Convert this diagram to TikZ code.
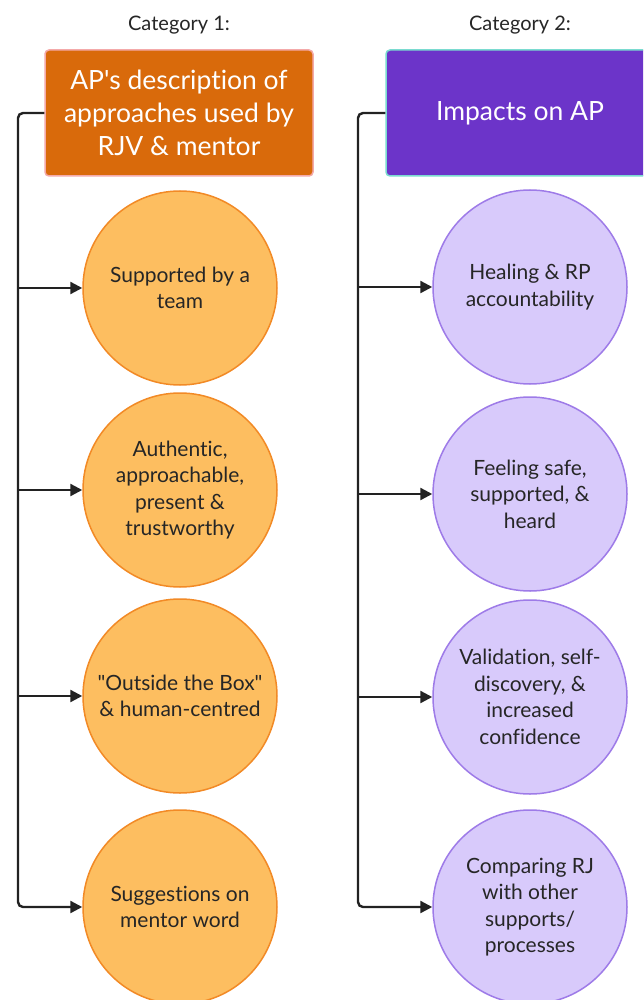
\documentclass[tikz,border=0pt]{standalone}
\usepackage{fontspec}
\setmainfont{Lato}[Ligatures={NoCommon,TeXOff}]
\usetikzlibrary{arrows.meta}
\definecolor{hdrorange}{RGB}{217,106,11}
\definecolor{hdrorangeedge}{RGB}{244,170,170}
\definecolor{hdrpurple}{RGB}{108,52,201}
\definecolor{hdrpurpleedge}{RGB}{122,219,208}
\definecolor{orangefill}{RGB}{253,190,96}
\definecolor{orangeedge}{RGB}{242,138,38}
\definecolor{lilacfill}{RGB}{216,202,251}
\definecolor{lilacedge}{RGB}{158,123,232}
\definecolor{linkcol}{RGB}{34,34,34}
\definecolor{inkcol}{RGB}{38,38,38}
\tikzset{
  catlabel/.style={font=\fontsize{20}{24}\selectfont, text=inkcol},
  header/.style={rectangle, rounded corners=4pt, line width=1.5pt,
    minimum width=268pt, minimum height=126pt, align=center, text=white,
    font=\fontsize{26.5}{33}\selectfont},
  item/.style={circle, minimum size=194pt, line width=1.5pt, align=center,
    text=inkcol, font=\fontsize{21}{26.5}\selectfont, inner sep=0pt},
  orangeitem/.style={item, fill=orangefill, draw=orangeedge},
  lilacitem/.style={item, fill=lilacfill, draw=lilacedge},
  link/.style={draw=linkcol, line width=2.4pt, rounded corners=5pt,
    -{Triangle[length=12pt,width=12pt]}},
}
\begin{document}
\begin{tikzpicture}[x=1pt,y=-1pt]
\useasboundingbox (0,0) rectangle (643,1000);
\clip (0,0) rectangle (643,1000);
\fill[white] (0,0) rectangle (643,1000);

% column headings
\node[catlabel] (cat1) at (179,25) {Category 1:};
\node[catlabel] (cat2) at (520,25) {Category 2:};

% header boxes
\node[header, fill=hdrorange, draw=hdrorangeedge] (h1) at (179,113)
  {AP\char39 s description of\\approaches used by\\RJV \& mentor};
\node[header, fill=hdrpurple, draw=hdrpurpleedge] (h2) at (520,113)
  {Impacts on AP};

% left column items
\node[orangeitem] (a1) at (180,288) {Supported by a\\team};
\node[orangeitem] (a2) at (180,490) {Authentic,\\approachable,\\present \&\\trustworthy};
\node[orangeitem] (a3) at (180,696) {\char34 Outside the Box\char34\\\& human-centred};
\node[orangeitem] (a4) at (180,907) {Suggestions on\\mentor word};

% right column items
\node[lilacitem] (b1) at (530,287) {Healing \& RP\\accountability};
\node[lilacitem] (b2) at (530,494) {Feeling safe,\\supported, \&\\heard};
\node[lilacitem] (b3) at (530,697) {Validation, self-\\discovery, \&\\increased\\confidence};
\node[lilacitem] (b4) at (530,907) {Comparing RJ\\with other\\supports/\\processes};

% left spine and branches
\coordinate (sl) at (18,0);
\draw[link] (h1.west) -| (sl |- a2) |- (a4.west);
\draw[link] (sl |- a1.west) -- (a1.west);
\draw[link] (sl |- a2.west) -- (a2.west);
\draw[link] (sl |- a3.west) -- (a3.west);

% right spine and branches
\coordinate (sr) at (358,0);
\draw[link] (h2.west) -| (sr |- b2) |- (b4.west);
\draw[link] (sr |- b1.west) -- (b1.west);
\draw[link] (sr |- b2.west) -- (b2.west);
\draw[link] (sr |- b3.west) -- (b3.west);
\end{tikzpicture}
\end{document}
